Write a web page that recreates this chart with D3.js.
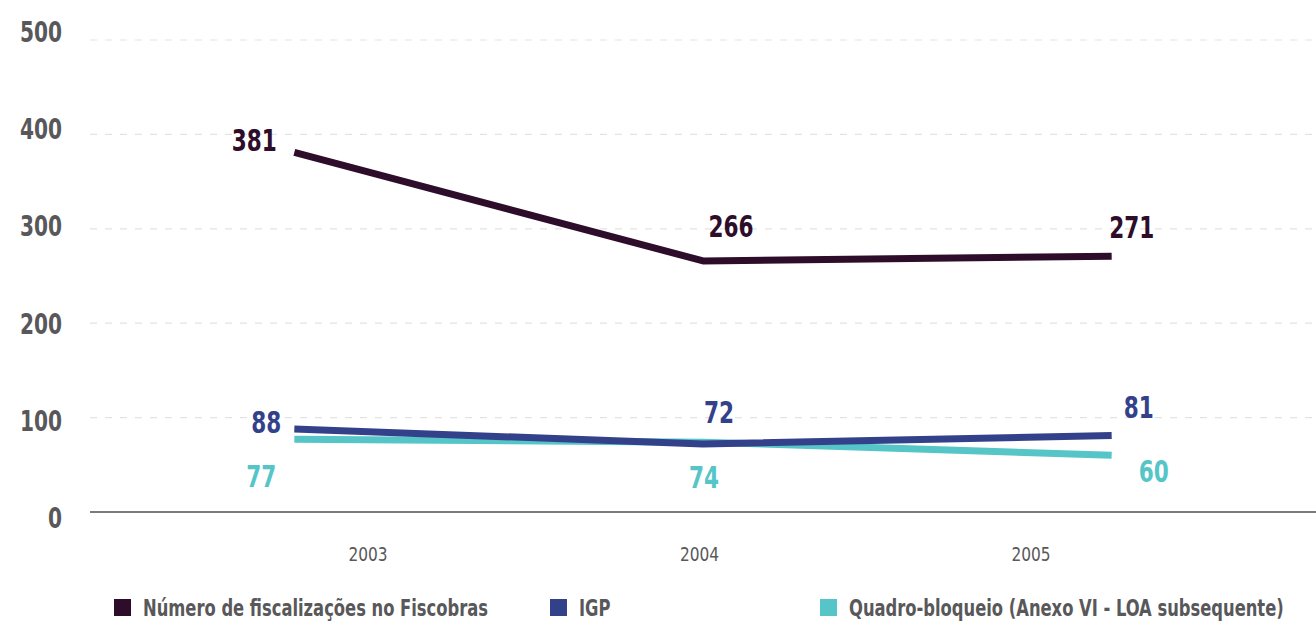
<!DOCTYPE html>
<html>
<head>
<meta charset="utf-8">
<script src="https://cdn.jsdelivr.net/npm/d3@7"></script>
<style>
  body { margin: 0; background: #fff; }
  text { font-family: "DejaVu Sans Condensed", "Liberation Sans Narrow", sans-serif; }
  .tick-y { font-size: 28px; font-weight: bold; fill: #58585a; }
  .tick-x { font-size: 19px; fill: #58585a; }
  .val { font-size: 30px; font-weight: bold; }
  .legend-text { font-size: 23px; font-weight: bold; fill: #58585a; }
</style>
</head>
<body>
<div id="chart"></div>
<script>
//////////////////////////////////////////////////////////////
//////////////////////// Data ////////////////////////////////
//////////////////////////////////////////////////////////////

const years = ["2003", "2004", "2005"]
const fiscobras = [381, 266, 271]
const igp = [88, 72, 81]
const quadro = [77, 74, 60]
const yTicks = [0, 100, 200, 300, 400, 500]

const seriesNames = ["Número de fiscalizações no Fiscobras", "IGP", "Quadro-bloqueio (Anexo VI - LOA subsequente)"]
const colors = ["#2e0d2a", "#33418a", "#55c5c7"]

//////////////////////////////////////////////////////////////
//////////////////////// Create SVG //////////////////////////
//////////////////////////////////////////////////////////////

const width = 1316
const height = 622
const narrow = 0.8 //horizontal squeeze to mimic a condensed face

const svg = d3.select("#chart").append("svg")
    .attr("width", width)
    .attr("height", height)

//////////////////////////////////////////////////////////////
////////////////////// Create scales /////////////////////////
//////////////////////////////////////////////////////////////

const xScale = d3.scaleBand()
    .domain(years)
    .range([90, 1316])

const xLabelScale = d3.scalePoint()
    .domain(years)
    .range([368, 1031])

const yScale = d3.scaleLinear()
    .domain([0, 500])
    .range([512, 40])

//tick labels are spread slightly wider than the gridlines in the original
const yLabelScale = d3.scaleLinear()
    .domain([0, 500])
    .range([517, 31])

const xMid = year => xScale(year) + xScale.bandwidth() / 2

const line = d3.line()
    .x((d, i) => xMid(years[i]))
    .y(d => yScale(d))

function squeeze(sel, x, y, s) {
    sel.attr("transform", (d, i) => "translate(" + [x(d, i), y(d, i)] + ") scale(" + s + ",1)")
}

//////////////////////////////////////////////////////////////
///////////////////// Draw gridlines /////////////////////////
//////////////////////////////////////////////////////////////

svg.append("g")
    .selectAll("line")
    .data(yTicks.filter(d => d > 0))
    .enter().append("line")
    .attr("x1", 90)
    .attr("x2", width)
    .attr("y1", d => yScale(d))
    .attr("y2", d => yScale(d))
    .style("stroke", "#e3e3e3")
    .style("stroke-width", 1.2)
    .style("stroke-dasharray", "7,8")

svg.append("line")
    .attr("x1", 90)
    .attr("x2", width)
    .attr("y1", yScale(0))
    .attr("y2", yScale(0))
    .style("stroke", "#7b7b7e")
    .style("stroke-width", 2)

svg.append("g")
    .selectAll("text")
    .data(yTicks)
    .enter().append("text")
    .attr("class", "tick-y")
    .attr("text-anchor", "end")
    .call(squeeze, () => 62, d => yLabelScale(d) + 11, narrow)
    .text(d => d)

svg.append("g")
    .selectAll("text")
    .data(years)
    .enter().append("text")
    .attr("class", "tick-x")
    .attr("text-anchor", "middle")
    .call(squeeze, d => xLabelScale(d), () => 561, 0.9)
    .text(d => d)

//////////////////////////////////////////////////////////////
///////////////////////// Draw lines /////////////////////////
//////////////////////////////////////////////////////////////

const allSeries = [fiscobras, igp, quadro]
const drawOrder = [2, 1, 0]

drawOrder.forEach(s => {
    svg.append("path")
        .attr("d", line(allSeries[s]))
        .style("fill", "none")
        .style("stroke", colors[s])
        .style("stroke-width", 7)
        .style("stroke-linejoin", "round")
})

//////////////////////////////////////////////////////////////
/////////////////////// Value labels /////////////////////////
//////////////////////////////////////////////////////////////

//offsets of each label from its point, per series
const labelOffsets = [
    [[-40, -1], [28, -24], [20, -18]],
    [[-28, 4], [16, -21], [27, -18]],
    [[-33, 48], [1, 46], [42, 27]]
]

allSeries.forEach((series, s) => {
    svg.append("g")
        .selectAll("text")
        .data(series)
        .enter().append("text")
        .attr("class", "val")
        .attr("text-anchor", "middle")
        .call(squeeze,
            (d, i) => xMid(years[i]) + labelOffsets[s][i][0],
            (d, i) => yScale(d) + labelOffsets[s][i][1],
            narrow)
        .style("fill", colors[s])
        .text(d => d)
})

//////////////////////////////////////////////////////////////
///////////////////////// Legend /////////////////////////////
//////////////////////////////////////////////////////////////

const legendX = [114, 550, 820]

const legend = svg.append("g")
    .selectAll("g")
    .data(seriesNames)
    .enter().append("g")
    .attr("transform", (d, i) => "translate(" + [legendX[i], 599] + ")")

legend.append("rect")
    .attr("width", 17)
    .attr("height", 17)
    .style("fill", (d, i) => colors[i])

legend.append("text")
    .attr("class", "legend-text")
    .attr("transform", "translate(29,17) scale(0.79,1)")
    .text(d => d)
</script>
</body>
</html>
